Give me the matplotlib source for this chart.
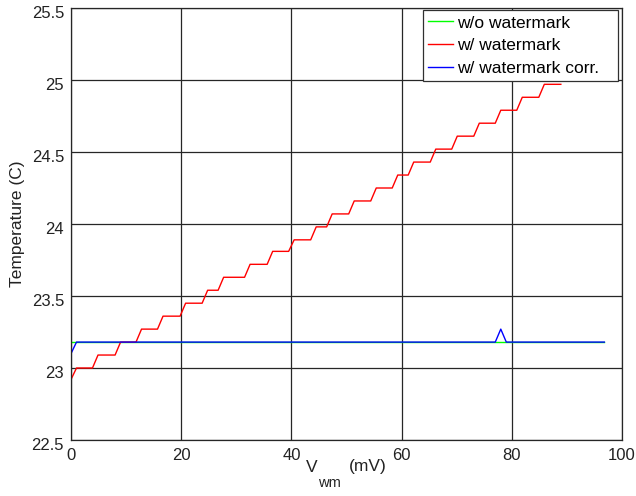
import numpy as np
import matplotlib
matplotlib.use("Agg")
import matplotlib.pyplot as plt
from matplotlib.transforms import ScaledTranslation

plt.rcParams['font.family'] = ['Liberation Sans', 'DejaVu Sans']

# ---- data ----
# red: quantised staircase (level values and where each rise starts, in mV)
red_levels = [22.92, 23.00, 23.09, 23.18, 23.27, 23.36, 23.45, 23.54, 23.63,
              23.72, 23.81, 23.89, 23.98, 24.07, 24.16, 24.25, 24.34, 24.43,
              24.52, 24.61, 24.70, 24.79, 24.88, 24.97]
red_rise_start = [0.0, 3.9, 8.0, 11.8, 15.7, 19.8, 23.8, 26.7, 31.5, 35.6,
                  39.5, 43.5, 46.4, 50.4, 54.4, 58.3, 61.2, 65.2, 69.1, 73.1,
                  77.0, 80.9, 84.9]
red_rise_width = 1.0
red_end = 88.9

# green: without watermark
green_x = [0.0, 96.8]
green_y = [23.18, 23.18]

# blue: with watermark, corrected
blue_x = [0.0, 1.0, 77.0, 78.0, 79.0, 96.8]
blue_y = [23.10, 23.18, 23.18, 23.27, 23.18, 23.18]

x_ticks = [0, 20, 40, 60, 80, 100]
y_ticks = [22.5, 23, 23.5, 24, 24.5, 25, 25.5]
y_tick_labels = ['22.5', '23', '23.5', '24', '24.5', '25', '25.5']

# build staircase points from the level/rise lists
red_x = [0.0]
red_y = [red_levels[0]]
for i, xs in enumerate(red_rise_start):
    if xs > red_x[-1]:
        red_x.append(xs)
        red_y.append(red_levels[i])
    red_x.append(xs + red_rise_width)
    red_y.append(red_levels[i + 1])
red_x.append(red_end)
red_y.append(red_levels[-1])

W, H = 636, 496
fig = plt.figure(figsize=(W / 100, H / 100), dpi=100)
ax = fig.add_axes([71/W, 56/H, 551/W, 432/H])

ax.plot(green_x, green_y, color='#00ff00', lw=1.0, label='w/o watermark')
ax.plot(red_x, red_y, color='#ff0000', lw=1.0, label='w/ watermark')
ax.plot(blue_x, blue_y, color='#0000ff', lw=1.0, label='w/ watermark corr.')

ax.set_xlim(0, 100)
ax.set_ylim(22.5, 25.5)
ax.set_xticks(x_ticks)
ax.set_yticks(y_ticks)
ax.set_yticklabels(y_tick_labels)
ax.grid(True, color='#262626', lw=0.9)
ax.set_axisbelow(True)
ax.tick_params(axis='both', length=0, labelsize=12, colors='#222222', pad=6)
ax.tick_params(axis='y', pad=5)
for s in ax.spines.values():
    s.set_color('#262626')
    s.set_linewidth(0.9)

off = ScaledTranslation(0, -4/100, fig.dpi_scale_trans)
for lab in ax.get_yticklabels():
    lab.set_transform(lab.get_transform() + off)

# x label "V_wm (mV)" with a deeply lowered subscript, as in the reference
lab_col = '#222222'
fig.text(306/W, 1 - 467/H, 'V', fontsize=12.5, color=lab_col, ha='left', va='center')
fig.text(318/W, 1 - 483/H, 'wm', fontsize=10.5, color=lab_col, ha='left', va='center')
fig.text(349/W, 1 - 467/H, '(mV)', fontsize=12.5, color=lab_col, ha='left', va='center')

ax.set_ylabel('Temperature (C)', fontsize=12.5, color=lab_col, labelpad=5)

# legend box spans roughly x 423..618 px, top at y=10 px
x0 = (423 - 71) / 551
w = (618 - 423) / 551
top = (440 - 10) / 432
leg = ax.legend(loc='upper right', bbox_to_anchor=(x0, 0.5, w, top - 0.5),
                mode='expand', borderaxespad=0.0,
                fontsize=12.5, handlelength=1.4, handletextpad=0.25,
                labelspacing=0.43, borderpad=0.31, fancybox=False, framealpha=1)
leg.get_frame().set_edgecolor('#303030')
leg.get_frame().set_linewidth(0.9)

fig.savefig('out.png', dpi=100)
